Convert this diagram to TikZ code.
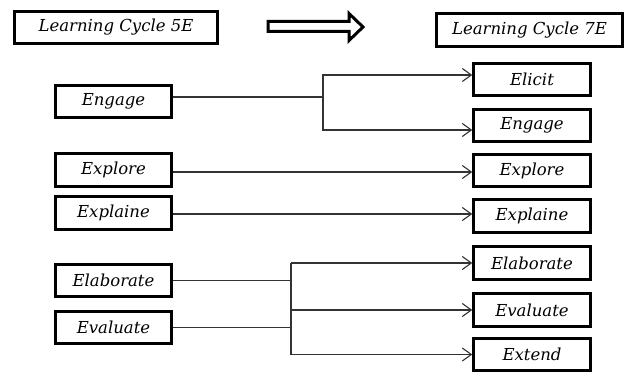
\documentclass[tikz,border=0pt]{standalone}
\usepackage{fontspec}
\setmainfont{DejaVu Serif}
\usetikzlibrary{arrows.meta}

\begin{document}
\begin{tikzpicture}[x=1pt,y=-1pt,
  box/.style={draw,line width=3pt,inner sep=0pt,minimum height=32.5pt,minimum width=116.5pt,
    font=\fontsize{16.5}{19}\selectfont\itshape},
  link/.style={draw=black!80,line width=1.1pt},
  arr/.style={link,-{Straight Barb[length=9pt,width=13pt]}}]
\useasboundingbox[fill=white] (0,0) rectangle (629,374);
% titles
\node[box,minimum width=203pt,minimum height=32pt] (t5) at (116,27.5) {Learning Cycle 5E};
\node[box,minimum width=186pt,minimum height=33pt] (t7) at (529.5,30) {Learning Cycle 7E};
\draw[line width=3pt,fill=white] (268,21.5) -- (349,21.5) -- (349,13.5) -- (363,27) -- (349,40.5) -- (349,31.5) -- (268,31.5) -- cycle;
% 5E
\node[box] (lEngage) at (113.5,101.5) {Engage};
\node[box] (lExplore) at (113.5,170) {Explore};
\node[box] (lExplaine) at (113.5,213) {Explaine};
\node[box] (lElaborate) at (113.5,280.5) {Elaborate};
\node[box] (lEvaluate) at (113.5,327.5) {Evaluate};
% 7E
\node[box] (rElicit) at (532,79.5) {Elicit};
\node[box] (rEngage) at (532,125.5) {Engage};
\node[box] (rExplore) at (532,170.5) {Explore};
\node[box] (rExplaine) at (532,216) {Explaine};
\node[box] (rElaborate) at (532,263) {Elaborate};
\node[box] (rEvaluate) at (532,310) {Evaluate};
\node[box] (rExtend) at (532,354.5) {Extend};
% connections
\coordinate (fork1) at (323,97);
\coordinate (fork2) at (291,310);
\draw[link] ([yshift=4.5pt]lEngage.east) -- (fork1);
\draw[arr] (fork1) |- ([yshift=4.5pt]rElicit.west);
\draw[arr] (fork1) |- ([yshift=-4.5pt]rEngage.west);
\draw[arr] ([yshift=-2pt]lExplore.east) -- ([yshift=-2pt]lExplore.east -| rExplore.west);
\draw[arr] ([yshift=-1pt]lExplaine.east) -- ([yshift=-1pt]lExplaine.east -| rExplaine.west);
\draw[link] (lElaborate.east) -- (lElaborate.east -| fork2);
\draw[link] (lEvaluate.east) -- (lEvaluate.east -| fork2);
\draw[link] (fork2 |- rElaborate.west) -- (fork2 |- rExtend.west);
\draw[arr] (fork2 |- rElaborate.west) -- (rElaborate.west);
\draw[arr] (fork2) -- (rEvaluate.west);
\draw[arr] (fork2 |- rExtend.west) -- (rExtend.west);
\end{tikzpicture}
\end{document}
